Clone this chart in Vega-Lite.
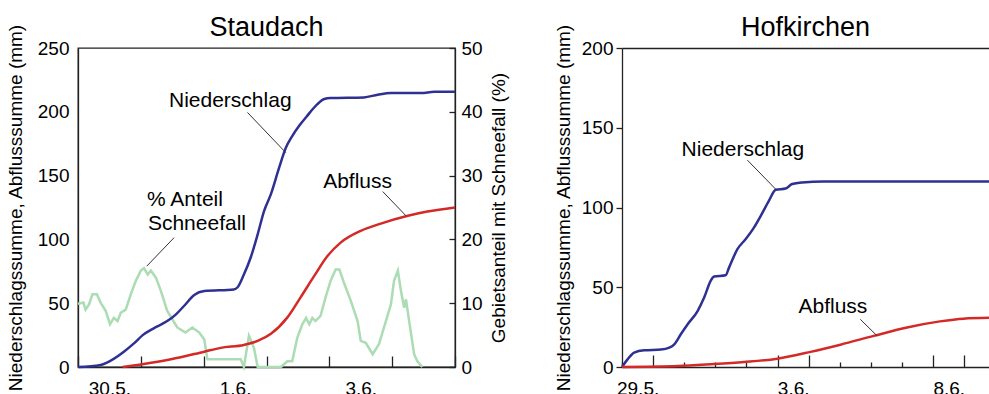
{
  "$schema": "https://vega.github.io/schema/vega-lite/v6.json",
  "padding": {"left": 5, "top": 13, "right": 0, "bottom": -5},
  "spacing": 45,
  "config": {
    "font": "Liberation Sans",
    "view": {"stroke": "#222222", "strokeWidth": 1.3},
    "axis": {"domainColor": "#222222", "domainWidth": 1.3, "tickColor": "#222222", "tickWidth": 1.3, "labelColor": "black", "titleColor": "black", "labelFontSize": 19, "titleFontSize": 19, "titleFontWeight": "normal", "grid": false, "zindex": 1},
    "title": {"fontSize": 27, "fontWeight": "normal", "color": "black", "frame": "group"}
  },
  "datasets": {
    "st_mm": [
      {"Datum": "2013-05-30T00:00Z", "Reihe": "Niederschlag", "mm": 0},
      {"Datum": "2013-05-30T08:38Z", "Reihe": "Niederschlag", "mm": 1.6},
      {"Datum": "2013-05-30T12:29Z", "Reihe": "Niederschlag", "mm": 5},
      {"Datum": "2013-05-30T17:31Z", "Reihe": "Niederschlag", "mm": 12},
      {"Datum": "2013-05-30T21:22Z", "Reihe": "Niederschlag", "mm": 18.5},
      {"Datum": "2013-05-31T00:43Z", "Reihe": "Niederschlag", "mm": 25},
      {"Datum": "2013-05-31T05:02Z", "Reihe": "Niederschlag", "mm": 30.5},
      {"Datum": "2013-05-31T10:05Z", "Reihe": "Niederschlag", "mm": 36},
      {"Datum": "2013-05-31T13:26Z", "Reihe": "Niederschlag", "mm": 41.3},
      {"Datum": "2013-05-31T16:34Z", "Reihe": "Niederschlag", "mm": 48},
      {"Datum": "2013-05-31T20:24Z", "Reihe": "Niederschlag", "mm": 56.5},
      {"Datum": "2013-06-01T00:14Z", "Reihe": "Niederschlag", "mm": 59.5},
      {"Datum": "2013-06-01T11:31Z", "Reihe": "Niederschlag", "mm": 60.8},
      {"Datum": "2013-06-01T12:58Z", "Reihe": "Niederschlag", "mm": 62.5},
      {"Datum": "2013-06-01T15:22Z", "Reihe": "Niederschlag", "mm": 72.5},
      {"Datum": "2013-06-01T18:00Z", "Reihe": "Niederschlag", "mm": 86},
      {"Datum": "2013-06-01T20:38Z", "Reihe": "Niederschlag", "mm": 104},
      {"Datum": "2013-06-01T23:02Z", "Reihe": "Niederschlag", "mm": 122},
      {"Datum": "2013-06-02T01:41Z", "Reihe": "Niederschlag", "mm": 135.5},
      {"Datum": "2013-06-02T04:48Z", "Reihe": "Niederschlag", "mm": 156},
      {"Datum": "2013-06-02T07:26Z", "Reihe": "Niederschlag", "mm": 172},
      {"Datum": "2013-06-02T09:50Z", "Reihe": "Niederschlag", "mm": 181},
      {"Datum": "2013-06-02T12:29Z", "Reihe": "Niederschlag", "mm": 189},
      {"Datum": "2013-06-02T15:36Z", "Reihe": "Niederschlag", "mm": 197},
      {"Datum": "2013-06-02T19:26Z", "Reihe": "Niederschlag", "mm": 206},
      {"Datum": "2013-06-02T22:05Z", "Reihe": "Niederschlag", "mm": 210},
      {"Datum": "2013-06-03T00:29Z", "Reihe": "Niederschlag", "mm": 210.8},
      {"Datum": "2013-06-03T13:12Z", "Reihe": "Niederschlag", "mm": 211.3},
      {"Datum": "2013-06-03T18:29Z", "Reihe": "Niederschlag", "mm": 213.4},
      {"Datum": "2013-06-03T23:31Z", "Reihe": "Niederschlag", "mm": 214.7},
      {"Datum": "2013-06-04T11:02Z", "Reihe": "Niederschlag", "mm": 214.7},
      {"Datum": "2013-06-04T16:05Z", "Reihe": "Niederschlag", "mm": 215.7},
      {"Datum": "2013-06-05T00:00Z", "Reihe": "Niederschlag", "mm": 215.7},
      {"Datum": "2013-05-30T17:02Z", "Reihe": "Abfluss", "mm": 0},
      {"Datum": "2013-05-31T00:00Z", "Reihe": "Abfluss", "mm": 2},
      {"Datum": "2013-05-31T11:31Z", "Reihe": "Abfluss", "mm": 6},
      {"Datum": "2013-06-01T00:14Z", "Reihe": "Abfluss", "mm": 12},
      {"Datum": "2013-06-01T06:29Z", "Reihe": "Abfluss", "mm": 15},
      {"Datum": "2013-06-01T15:22Z", "Reihe": "Abfluss", "mm": 17.3},
      {"Datum": "2013-06-01T20:38Z", "Reihe": "Abfluss", "mm": 20.4},
      {"Datum": "2013-06-02T01:41Z", "Reihe": "Abfluss", "mm": 26},
      {"Datum": "2013-06-02T07:55Z", "Reihe": "Abfluss", "mm": 38.7},
      {"Datum": "2013-06-02T12:58Z", "Reihe": "Abfluss", "mm": 54.4},
      {"Datum": "2013-06-02T18:14Z", "Reihe": "Abfluss", "mm": 71.4},
      {"Datum": "2013-06-02T23:17Z", "Reihe": "Abfluss", "mm": 87},
      {"Datum": "2013-06-03T04:19Z", "Reihe": "Abfluss", "mm": 97.5},
      {"Datum": "2013-06-03T12:00Z", "Reihe": "Abfluss", "mm": 106.7},
      {"Datum": "2013-06-03T19:41Z", "Reihe": "Abfluss", "mm": 112.4},
      {"Datum": "2013-06-04T06:00Z", "Reihe": "Abfluss", "mm": 118.5},
      {"Datum": "2013-06-04T13:26Z", "Reihe": "Abfluss", "mm": 121.8},
      {"Datum": "2013-06-05T00:00Z", "Reihe": "Abfluss", "mm": 125}
    ],
    "st_schnee": [
      {"Datum": "2013-05-30T00:00Z", "Anteil": 9.9},
      {"Datum": "2013-05-30T02:04Z", "Anteil": 10.1},
      {"Datum": "2013-05-30T02:53Z", "Anteil": 9.0},
      {"Datum": "2013-05-30T04:12Z", "Anteil": 9.8},
      {"Datum": "2013-05-30T05:31Z", "Anteil": 11.4},
      {"Datum": "2013-05-30T07:12Z", "Anteil": 11.4},
      {"Datum": "2013-05-30T08:38Z", "Anteil": 10.1},
      {"Datum": "2013-05-30T10:34Z", "Anteil": 8.8},
      {"Datum": "2013-05-30T12:14Z", "Anteil": 6.7},
      {"Datum": "2013-05-30T13:41Z", "Anteil": 7.7},
      {"Datum": "2013-05-30T15:07Z", "Anteil": 7.2},
      {"Datum": "2013-05-30T16:19Z", "Anteil": 8.5},
      {"Datum": "2013-05-30T18:14Z", "Anteil": 9.0},
      {"Datum": "2013-05-30T20:10Z", "Anteil": 11.4},
      {"Datum": "2013-05-30T22:05Z", "Anteil": 13.5},
      {"Datum": "2013-05-31T00:00Z", "Anteil": 15.1},
      {"Datum": "2013-05-31T01:12Z", "Anteil": 15.5},
      {"Datum": "2013-05-31T02:38Z", "Anteil": 14.5},
      {"Datum": "2013-05-31T03:50Z", "Anteil": 15.1},
      {"Datum": "2013-05-31T05:46Z", "Anteil": 14.0},
      {"Datum": "2013-05-31T07:41Z", "Anteil": 11.9},
      {"Datum": "2013-05-31T10:05Z", "Anteil": 8.8},
      {"Datum": "2013-05-31T13:55Z", "Anteil": 6.2},
      {"Datum": "2013-05-31T17:02Z", "Anteil": 5.4},
      {"Datum": "2013-05-31T19:41Z", "Anteil": 6.2},
      {"Datum": "2013-05-31T22:19Z", "Anteil": 5.4},
      {"Datum": "2013-06-01T00:14Z", "Anteil": 4.3},
      {"Datum": "2013-06-01T01:26Z", "Anteil": 1.2},
      {"Datum": "2013-06-01T14:10Z", "Anteil": 1.2},
      {"Datum": "2013-06-01T15:22Z", "Anteil": 0},
      {"Datum": "2013-06-01T17:17Z", "Anteil": 4.9},
      {"Datum": "2013-06-01T19:12Z", "Anteil": 3.0},
      {"Datum": "2013-06-01T20:38Z", "Anteil": 0},
      {"Datum": "2013-06-02T05:31Z", "Anteil": 0},
      {"Datum": "2013-06-02T07:55Z", "Anteil": 0.9},
      {"Datum": "2013-06-02T09:50Z", "Anteil": 0.9},
      {"Datum": "2013-06-02T11:46Z", "Anteil": 4.6},
      {"Datum": "2013-06-02T13:41Z", "Anteil": 6.7},
      {"Datum": "2013-06-02T15:07Z", "Anteil": 7.7},
      {"Datum": "2013-06-02T16:19Z", "Anteil": 6.7},
      {"Datum": "2013-06-02T17:31Z", "Anteil": 7.7},
      {"Datum": "2013-06-02T18:43Z", "Anteil": 7.2},
      {"Datum": "2013-06-02T20:38Z", "Anteil": 8.0},
      {"Datum": "2013-06-02T22:34Z", "Anteil": 10.9},
      {"Datum": "2013-06-03T00:29Z", "Anteil": 13.5},
      {"Datum": "2013-06-03T02:24Z", "Anteil": 15.3},
      {"Datum": "2013-06-03T03:50Z", "Anteil": 15.3},
      {"Datum": "2013-06-03T05:46Z", "Anteil": 13.0},
      {"Datum": "2013-06-03T08:10Z", "Anteil": 10.4},
      {"Datum": "2013-06-03T10:48Z", "Anteil": 7.2},
      {"Datum": "2013-06-03T12:00Z", "Anteil": 4.1},
      {"Datum": "2013-06-03T13:55Z", "Anteil": 3.8},
      {"Datum": "2013-06-03T16:34Z", "Anteil": 2.0},
      {"Datum": "2013-06-03T18:58Z", "Anteil": 3.6},
      {"Datum": "2013-06-03T21:36Z", "Anteil": 7.2},
      {"Datum": "2013-06-03T23:31Z", "Anteil": 9.8},
      {"Datum": "2013-06-04T00:43Z", "Anteil": 13.5},
      {"Datum": "2013-06-04T02:10Z", "Anteil": 15.1},
      {"Datum": "2013-06-04T03:22Z", "Anteil": 11.9},
      {"Datum": "2013-06-04T04:34Z", "Anteil": 9.3},
      {"Datum": "2013-06-04T05:17Z", "Anteil": 10.6},
      {"Datum": "2013-06-04T06:29Z", "Anteil": 7.2},
      {"Datum": "2013-06-04T08:24Z", "Anteil": 2.0},
      {"Datum": "2013-06-04T09:36Z", "Anteil": 0.9},
      {"Datum": "2013-06-04T11:31Z", "Anteil": 0}
    ],
    "hk_mm": [
      {"Datum": "2013-05-29T00:00Z", "Reihe": "Niederschlag", "mm": 0},
      {"Datum": "2013-05-29T04:19Z", "Reihe": "Niederschlag", "mm": 4.8},
      {"Datum": "2013-05-29T09:22Z", "Reihe": "Niederschlag", "mm": 9},
      {"Datum": "2013-05-29T17:02Z", "Reihe": "Niederschlag", "mm": 10.5},
      {"Datum": "2013-05-30T06:00Z", "Reihe": "Niederschlag", "mm": 10.9},
      {"Datum": "2013-05-30T12:29Z", "Reihe": "Niederschlag", "mm": 12.1},
      {"Datum": "2013-05-30T16:19Z", "Reihe": "Niederschlag", "mm": 14.2},
      {"Datum": "2013-05-30T21:22Z", "Reihe": "Niederschlag", "mm": 20.5},
      {"Datum": "2013-05-31T02:38Z", "Reihe": "Niederschlag", "mm": 26.8},
      {"Datum": "2013-05-31T10:19Z", "Reihe": "Niederschlag", "mm": 35.1},
      {"Datum": "2013-05-31T15:22Z", "Reihe": "Niederschlag", "mm": 43.5},
      {"Datum": "2013-05-31T20:24Z", "Reihe": "Niederschlag", "mm": 54},
      {"Datum": "2013-05-31T23:02Z", "Reihe": "Niederschlag", "mm": 56.7},
      {"Datum": "2013-06-01T07:55Z", "Reihe": "Niederschlag", "mm": 57.5},
      {"Datum": "2013-06-01T10:34Z", "Reihe": "Niederschlag", "mm": 62.3},
      {"Datum": "2013-06-01T17:02Z", "Reihe": "Niederschlag", "mm": 73.9},
      {"Datum": "2013-06-01T23:17Z", "Reihe": "Niederschlag", "mm": 80.1},
      {"Datum": "2013-06-02T05:46Z", "Reihe": "Niederschlag", "mm": 87.4},
      {"Datum": "2013-06-02T11:02Z", "Reihe": "Niederschlag", "mm": 94.8},
      {"Datum": "2013-06-02T17:17Z", "Reihe": "Niederschlag", "mm": 104.2},
      {"Datum": "2013-06-02T22:34Z", "Reihe": "Niederschlag", "mm": 111.1},
      {"Datum": "2013-06-03T06:14Z", "Reihe": "Niederschlag", "mm": 111.9},
      {"Datum": "2013-06-03T11:17Z", "Reihe": "Niederschlag", "mm": 114.7},
      {"Datum": "2013-06-03T18:58Z", "Reihe": "Niederschlag", "mm": 115.7},
      {"Datum": "2013-06-04T11:31Z", "Reihe": "Niederschlag", "mm": 116.3},
      {"Datum": "2013-06-09T19:05Z", "Reihe": "Niederschlag", "mm": 116.3},
      {"Datum": "2013-05-29T00:00Z", "Reihe": "Abfluss", "mm": 0},
      {"Datum": "2013-05-30T18:58Z", "Reihe": "Abfluss", "mm": 0.6},
      {"Datum": "2013-05-31T20:24Z", "Reihe": "Abfluss", "mm": 1.7},
      {"Datum": "2013-06-01T22:05Z", "Reihe": "Abfluss", "mm": 3.1},
      {"Datum": "2013-06-02T23:46Z", "Reihe": "Abfluss", "mm": 5.2},
      {"Datum": "2013-06-04T01:26Z", "Reihe": "Abfluss", "mm": 9.5},
      {"Datum": "2013-06-05T00:29Z", "Reihe": "Abfluss", "mm": 14},
      {"Datum": "2013-06-06T02:10Z", "Reihe": "Abfluss", "mm": 19.5},
      {"Datum": "2013-06-07T03:50Z", "Reihe": "Abfluss", "mm": 24.8},
      {"Datum": "2013-06-08T05:17Z", "Reihe": "Abfluss", "mm": 28.6},
      {"Datum": "2013-06-08T23:17Z", "Reihe": "Abfluss", "mm": 30.3},
      {"Datum": "2013-06-09T19:05Z", "Reihe": "Abfluss", "mm": 30.8}
    ],
    "anno": [
      {"Panel": "Staudach", "Text": "Niederschlag", "Datum": "2013-06-01T10:10Z", "mm": 203.4},
      {"Panel": "Staudach", "Text": "Abfluss", "Datum": "2013-06-03T10:47Z", "mm": 140.6},
      {"Panel": "Staudach", "Text": "% Anteil", "Datum": "2013-05-31T16:51Z", "mm": 126.3},
      {"Panel": "Staudach", "Text": "Schneefall", "Datum": "2013-05-31T21:26Z", "mm": 107.2},
      {"Panel": "Hofkirchen", "Text": "Niederschlag", "Datum": "2013-06-01T21:14Z", "mm": 132.4},
      {"Panel": "Hofkirchen", "Text": "Abfluss", "Datum": "2013-06-04T18:42Z", "mm": 33.7}
    ],
    "leader": [
      {"Panel": "Staudach", "Datum": "2013-06-01T16:44Z", "mm": 199.5, "Datum2": "2013-06-02T07:22Z", "mm2": 168},
      {"Panel": "Staudach", "Datum": "2013-06-03T20:24Z", "mm": 137.5, "Datum2": "2013-06-04T05:17Z", "mm2": 118.5},
      {"Panel": "Staudach", "Datum": "2013-05-31T12:43Z", "mm": 101.4, "Datum2": "2013-05-31T02:15Z", "mm2": 79},
      {"Panel": "Hofkirchen", "Datum": "2013-06-02T00:43Z", "mm": 129.7, "Datum2": "2013-06-02T22:33Z", "mm2": 111.5},
      {"Panel": "Hofkirchen", "Datum": "2013-06-05T15:50Z", "mm": 29.9, "Datum2": "2013-06-06T04:48Z", "mm2": 19.5}
    ]
  },
  "hconcat": [
    {
      "title": {"text": "Staudach", "baseline": "alphabetic", "offset": -39},
      "width": 377,
      "height": 319,
      "encoding": {
        "x": {
          "field": "Datum", "type": "temporal", "title": null,
          "scale": {"type": "utc", "domain": [{"year": 2013, "month": 5, "date": 30, "utc": true}, {"year": 2013, "month": 6, "date": 5, "utc": true}]},
          "axis": {
            "values": [
              {"year": 2013, "month": 5, "date": 30, "utc": true},
              {"year": 2013, "month": 5, "date": 31, "utc": true},
              {"year": 2013, "month": 6, "date": 1, "utc": true},
              {"year": 2013, "month": 6, "date": 2, "utc": true},
              {"year": 2013, "month": 6, "date": 3, "utc": true},
              {"year": 2013, "month": 6, "date": 4, "utc": true},
              {"year": 2013, "month": 6, "date": 5, "utc": true}
            ],
            "tickSize": -11, "labelPadding": 23, "labelOffset": 31.4, "labelFlush": false, "labelOverlap": false,
            "labelExpr": "indexof(['30.5.','1.6.','3.6.'], utcFormat(datum.value, '%-d.%-m.')) >= 0 ? utcFormat(datum.value, '%-d.%-m.') : ''"
          }
        }
      },
      "layer": [
        {
          "data": {"name": "st_schnee"},
          "mark": {"type": "line", "color": "#abdcb3", "strokeWidth": 2.5},
          "encoding": {
            "y": {
              "field": "Anteil", "type": "quantitative",
              "scale": {"domain": [0, 50], "nice": false},
              "axis": {"orient": "right", "values": [0, 10, 20, 30, 40, 50], "tickSize": -6, "labelPadding": 12, "title": "Gebietsanteil mit Schneefall (%)", "titleAngle": 270, "titlePadding": 26}
            }
          }
        },
        {
          "encoding": {
            "y": {
              "field": "mm", "type": "quantitative",
              "scale": {"domain": [0, 250], "nice": false},
              "axis": {"orient": "left", "values": [0, 50, 100, 150, 200, 250], "ticks": false, "labelPadding": 9, "title": "Niederschlagssumme, Abflusssumme (mm)", "titlePadding": 12}
            }
          },
          "layer": [
            {
              "data": {"name": "st_mm"},
              "mark": {"type": "line", "interpolate": "monotone", "strokeWidth": 2.5},
              "encoding": {
                "color": {"field": "Reihe", "type": "nominal", "scale": {"domain": ["Niederschlag", "Abfluss"], "range": ["#2e3192", "#d42a27"]}, "legend": null}
              }
            },
            {
              "data": {"name": "leader", "format": {"parse": {"Datum": "date", "Datum2": "date"}}},
              "transform": [{"filter": "datum.Panel == 'Staudach'"}],
              "mark": {"type": "rule", "color": "#333333", "strokeWidth": 1},
              "encoding": {"x2": {"field": "Datum2"}, "y2": {"field": "mm2"}}
            },
            {
              "data": {"name": "anno", "format": {"parse": {"Datum": "date"}}},
              "transform": [{"filter": "datum.Panel == 'Staudach'"}],
              "mark": {"type": "text", "fontSize": 21, "baseline": "alphabetic", "align": "center", "color": "black"},
              "encoding": {"text": {"field": "Text"}}
            }
          ]
        }
      ],
      "resolve": {"scale": {"y": "independent"}}
    },
    {
      "title": {"text": "Hofkirchen", "baseline": "alphabetic", "offset": -39},
      "width": 367,
      "height": 319,
      "view": {"stroke": null},
      "encoding": {
        "y": {
          "field": "mm", "type": "quantitative",
          "scale": {"domain": [0, 200], "nice": false},
          "axis": {"values": [0, 50, 100, 150, 200], "tickSize": 6, "labelPadding": 3, "title": "Niederschlagssumme, Abflusssumme (mm)", "titlePadding": 8}
        }
      },
      "layer": [
        {
          "data": {"name": "hk_mm"},
          "mark": {"type": "line", "interpolate": "monotone", "strokeWidth": 2.5},
          "encoding": {
            "x": {
              "field": "Datum", "type": "temporal", "title": null,
              "scale": {"type": "utc", "domain": [{"year": 2013, "month": 5, "date": 29, "utc": true}, {"year": 2013, "month": 6, "date": 9, "hours": 19, "minutes": 5, "utc": true}]},
              "axis": {
                "values": [
                  {"year": 2013, "month": 5, "date": 29, "utc": true},
                  {"year": 2013, "month": 5, "date": 30, "utc": true},
                  {"year": 2013, "month": 5, "date": 31, "utc": true},
                  {"year": 2013, "month": 6, "date": 1, "utc": true},
                  {"year": 2013, "month": 6, "date": 2, "utc": true},
                  {"year": 2013, "month": 6, "date": 3, "utc": true},
                  {"year": 2013, "month": 6, "date": 4, "utc": true},
                  {"year": 2013, "month": 6, "date": 5, "utc": true},
                  {"year": 2013, "month": 6, "date": 6, "utc": true},
                  {"year": 2013, "month": 6, "date": 7, "utc": true},
                  {"year": 2013, "month": 6, "date": 8, "utc": true},
                  {"year": 2013, "month": 6, "date": 9, "utc": true}
                ],
                "tickSize": {"condition": {"test": "indexof(['30.5.','3.6.','4.6.','8.6.','9.6.'], utcFormat(datum.value, '%-d.%-m.')) >= 0", "value": -12}, "value": -5},
                "labelPadding": {"condition": {"test": "indexof(['30.5.','3.6.','4.6.','8.6.','9.6.'], utcFormat(datum.value, '%-d.%-m.')) >= 0", "value": 24}, "value": 17},
                "labelOffset": 15.6, "labelFlush": false, "labelOverlap": false,
                "labelExpr": "indexof(['29.5.','3.6.','8.6.'], utcFormat(datum.value, '%-d.%-m.')) >= 0 ? utcFormat(datum.value, '%-d.%-m.') : ''"
              }
            },
            "color": {"field": "Reihe", "type": "nominal", "scale": {"domain": ["Niederschlag", "Abfluss"], "range": ["#2e3192", "#d42a27"]}, "legend": null}
          }
        },
        {
          "data": {"name": "leader", "format": {"parse": {"Datum": "date", "Datum2": "date"}}},
          "transform": [{"filter": "datum.Panel == 'Hofkirchen'"}],
          "mark": {"type": "rule", "color": "#333333", "strokeWidth": 1},
          "encoding": {
            "x": {
              "field": "Datum", "type": "temporal", "title": null,
              "scale": {"type": "utc", "domain": [{"year": 2013, "month": 5, "date": 29, "utc": true}, {"year": 2013, "month": 6, "date": 9, "hours": 19, "minutes": 5, "utc": true}]},
              "axis": {"orient": "top", "labels": false, "ticks": false, "domain": true}
            },
            "x2": {"field": "Datum2"},
            "y2": {"field": "mm2"}
          }
        },
        {
          "data": {"name": "anno", "format": {"parse": {"Datum": "date"}}},
          "transform": [{"filter": "datum.Panel == 'Hofkirchen'"}],
          "mark": {"type": "text", "fontSize": 21, "baseline": "alphabetic", "align": "center", "color": "black"},
          "encoding": {
            "x": {
              "field": "Datum", "type": "temporal", "title": null,
              "scale": {"type": "utc", "domain": [{"year": 2013, "month": 5, "date": 29, "utc": true}, {"year": 2013, "month": 6, "date": 9, "hours": 19, "minutes": 5, "utc": true}]},
              "axis": null
            },
            "text": {"field": "Text"}
          }
        }
      ],
      "resolve": {"axis": {"x": "independent"}}
    }
  ]
}
